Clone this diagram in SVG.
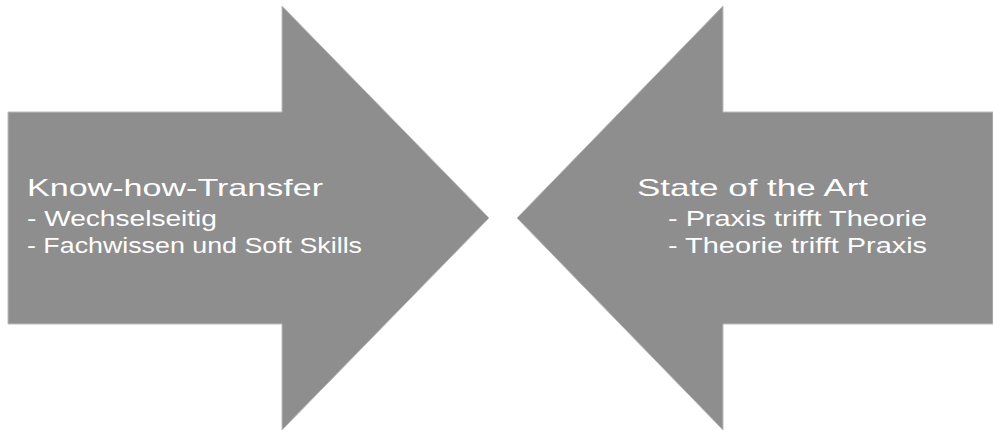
<svg xmlns="http://www.w3.org/2000/svg" width="993" height="430" viewBox="0 0 993 430">
  <style>
    .arrow { fill: #8e8e8e; stroke: #bcbcbc; stroke-width: 1; }
    .title { font-family: "Liberation Sans", "Noto Sans", sans-serif; font-size: 24px; fill: #ffffff; }
    .item { font-family: "Liberation Sans", "Noto Sans", sans-serif; font-size: 22px; fill: #ffffff; }
  </style>
  <rect width="993" height="430" fill="#ffffff"/>
  <g id="know-how-transfer">
    <polygon class="arrow" points="8,112 282,112 282,6 489,218 282,430 282,324 8,324"/>
    <text class="title" x="27" y="196" textLength="296" lengthAdjust="spacingAndGlyphs">Know-how-Transfer</text>
    <text class="item" x="27" y="226" textLength="190" lengthAdjust="spacingAndGlyphs">- Wechselseitig</text>
    <text class="item" x="27" y="253" textLength="335" lengthAdjust="spacingAndGlyphs">- Fachwissen und Soft Skills</text>
  </g>
  <g id="state-of-the-art">
    <polygon class="arrow" points="993,112 723,112 723,6 517,218 723,430 723,324 993,324"/>
    <text class="title" x="637" y="196" textLength="231" lengthAdjust="spacingAndGlyphs">State of the Art</text>
    <text class="item" x="668" y="226" textLength="259" lengthAdjust="spacingAndGlyphs">- Praxis trifft Theorie</text>
    <text class="item" x="668" y="253" textLength="259" lengthAdjust="spacingAndGlyphs">- Theorie trifft Praxis</text>
  </g>
  <g id="connectors"/>
</svg>
